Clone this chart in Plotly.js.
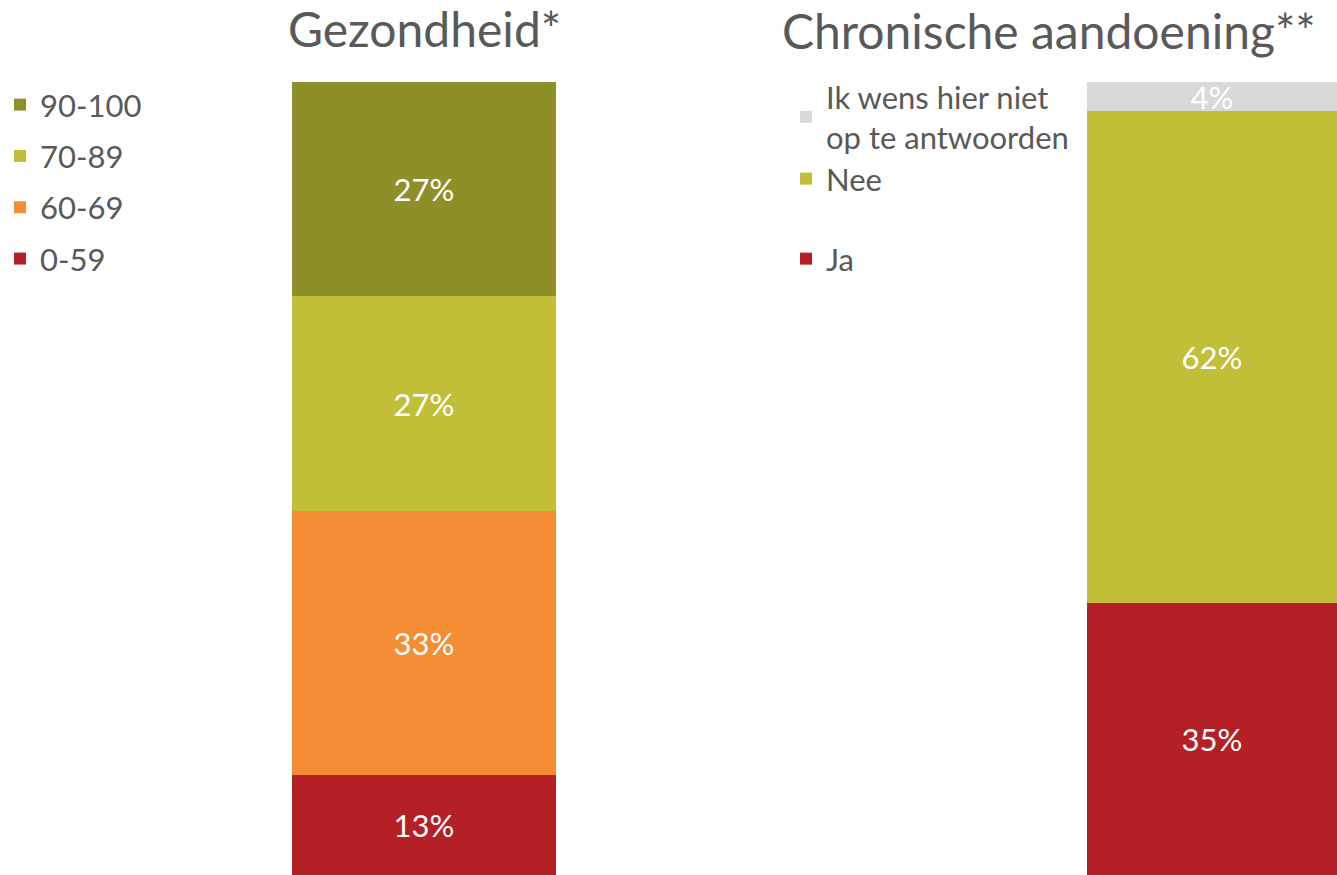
<!DOCTYPE html>
<html>
<head>
<meta charset="utf-8">
<script src="https://cdn.plot.ly/plotly-3.0.1.min.js"></script>
<style>
  html, body { margin: 0; padding: 0; background: #fff; }
  #chart { width: 1337px; height: 875px; }
</style>
</head>
<body>
<div id="chart"></div>
<script>
/* Gezondheid (bar segments, bottom to top) */
var gezCats = ['0-59', '60-69', '70-89', '90-100'];
var gezVals = [12.6, 33.3, 27.1, 27.0];
var gezLabels = ['13%', '33%', '27%', '27%'];
var gezColors = ['#B52027', '#F58D34', '#C1BE38', '#8F8F2A'];

/* Chronische aandoening (bottom to top) */
var chrCats = ['Ja', 'Nee', 'Ik wens hier niet<br>op te antwoorden'];
var chrVals = [34.3, 62.0, 3.7];
var chrLabels = ['35%', '62%', '4%'];
var chrColors = ['#B52027', '#C1BE38', '#D9D9D9'];
var chrLegends = ['legend4', 'legend3', 'legend2'];

var FONT = 'Lato, "Open Sans", sans-serif';
var GREY = '#595959';

var data = [];

gezCats.forEach(function (c, i) {
  data.push({
    type: 'bar',
    x: ['Gezondheid'],
    y: [gezVals[i]],
    name: c,
    text: [gezLabels[i]],
    textposition: 'inside',
    insidetextanchor: 'middle',
    constraintext: 'none',
    textfont: { color: '#ffffff', size: 31, family: FONT },
    marker: { color: gezColors[i], line: { width: 0 } },
    width: 1,
    xaxis: 'x',
    yaxis: 'y',
    legend: 'legend',
    legendgroup: 'g' + i,
    legendrank: 100 - i,
    hoverinfo: 'skip'
  });
});

chrCats.forEach(function (c, i) {
  data.push({
    type: 'bar',
    x: ['Chronisch'],
    y: [chrVals[i]],
    name: c,
    text: [chrLabels[i]],
    textposition: 'inside',
    insidetextanchor: 'middle',
    constraintext: 'none',
    textfont: { color: '#ffffff', size: 31, family: FONT },
    marker: { color: chrColors[i], line: { width: 0 } },
    width: 1,
    xaxis: 'x2',
    yaxis: 'y2',
    legend: chrLegends[i],
    hoverinfo: 'skip'
  });
});

var hidden = { showgrid: false, zeroline: false, showticklabels: false, showline: false, fixedrange: true };

function legendAt(x, y) {
  return {
    x: x, y: y, xanchor: 'left', yanchor: 'middle',
    font: { family: FONT, size: 31, color: GREY },
    bgcolor: 'rgba(0,0,0,0)', borderwidth: 0,
    itemclick: false, itemdoubleclick: false
  };
}

var layout = {
  width: 1337,
  height: 875,
  margin: { l: 0, r: 0, t: 0, b: 0 },
  paper_bgcolor: '#ffffff',
  plot_bgcolor: '#ffffff',
  barmode: 'stack',
  bargap: 0,
  font: { family: FONT, color: GREY },
  xaxis: Object.assign({ domain: [292 / 1337, 556 / 1337], range: [-0.5, 0.5] }, hidden),
  yaxis: Object.assign({ domain: [0, 793 / 875], range: [0, 100] }, hidden),
  xaxis2: Object.assign({ domain: [1087 / 1337, 1], range: [-0.5, 0.5], anchor: 'y2' }, hidden),
  yaxis2: Object.assign({ domain: [0, 793 / 875], range: [0, 100], anchor: 'x2' }, hidden),
  legend: {
    x: 0, y: 1 - 78 / 875, xanchor: 'left', yanchor: 'top',
    traceorder: 'grouped',
    tracegroupgap: 8,
    font: { family: FONT, size: 31, color: GREY },
    bgcolor: 'rgba(0,0,0,0)', borderwidth: 0
  },
  legend2: legendAt(786 / 1337, 1 - 117 / 875),
  legend3: legendAt(786 / 1337, 1 - 179 / 875),
  legend4: legendAt(786 / 1337, 1 - 259 / 875),
  annotations: [
    { text: 'Gezondheid*', xref: 'paper', yref: 'paper', x: 424 / 1337, y: 1 - 29 / 875,
      xanchor: 'center', yanchor: 'middle', showarrow: false,
      font: { family: FONT, size: 48, color: GREY } },
    { text: 'Chronische aandoening**', xref: 'paper', yref: 'paper', x: 1049 / 1337, y: 1,
      xanchor: 'center', yanchor: 'top', showarrow: false,
      font: { family: FONT, size: 48, color: GREY } }
  ]
};

Plotly.newPlot('chart', data, layout, { staticPlot: true, displayModeBar: false });
</script>
</body>
</html>
